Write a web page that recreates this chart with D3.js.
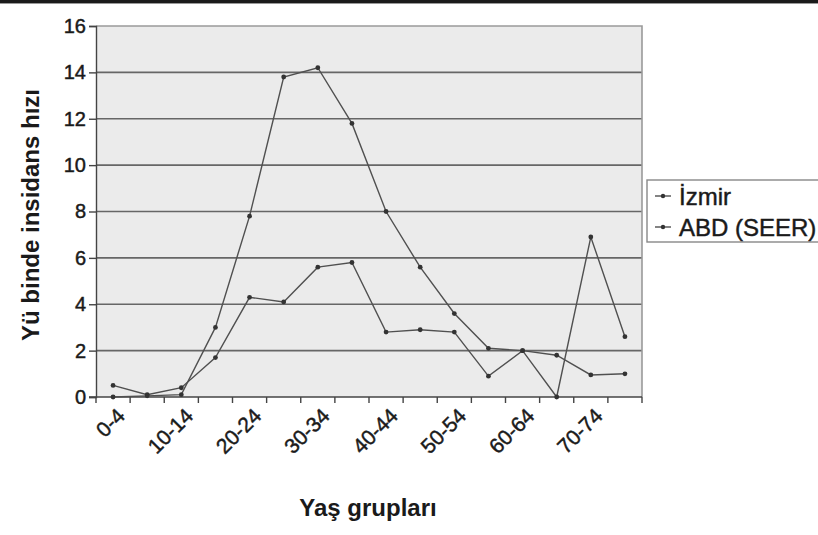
<!DOCTYPE html>
<html><head><meta charset="utf-8">
<script src="https://cdn.jsdelivr.net/npm/d3@7"></script>
<style>
body{margin:0;background:#fff;}
svg{display:block;font-family:"Liberation Sans",Arial,sans-serif;}
.reg{stroke:#1a1a1a;stroke-width:0.45px;}
</style></head>
<body><svg id="c" width="818" height="535"></svg>
<script>
const categories = ["0-4","5-9","10-14","15-19","20-24","25-29","30-34","35-39","40-44","45-49","50-54","55-59","60-64","65-69","70-74","75-79"];
const izmir = [0.5,0.1,0.4,1.7,4.3,4.1,5.6,5.8,2.8,2.9,2.8,0.9,2.0,0.0,6.9,2.6];
const abd = [0.0,0.05,0.1,3.0,7.8,13.8,14.2,11.8,8.0,5.6,3.6,2.1,2.0,1.8,0.95,1.0];
const yTicks = [0,2,4,6,8,10,12,14,16];
const xTickLabels = ["0-4","10-14","20-24","30-34","40-44","50-54","60-64","70-74"];
const seriesNames = ["İzmir","ABD (SEER)"];

const svg = d3.select("#c");
const L = 96, R = 642, T = 26, B = 397;
const x = d3.scaleBand().domain(categories).range([L, R]);
const y = d3.scaleLinear().domain([0,16]).range([B, T]);
const cx = d => x(d) + x.bandwidth()/2;

// top rule
svg.append("rect").attr("x",0).attr("y",0).attr("width",818).attr("height",3).attr("fill","#1a1a1a");
svg.append("rect").attr("x",0).attr("y",3).attr("width",818).attr("height",1).attr("fill","#999");

// plot background
svg.append("rect").attr("x",L).attr("y",T).attr("width",R-L).attr("height",B-T).attr("fill","#ebebeb");

// gridlines
svg.append("g").selectAll("line").data(yTicks.filter(v=>v>0 && v<16)).join("line")
  .attr("x1",L).attr("x2",R).attr("y1",d=>y(d)).attr("y2",d=>y(d))
  .attr("stroke","#666").attr("stroke-width",1.7);
// top & right border
svg.append("path").attr("d",`M${L},${y(16)}H${R}V${B}`).attr("fill","none").attr("stroke","#9a9a9a").attr("stroke-width",1.6);

// y axis
const yAxis = d3.axisLeft(y).tickValues(yTicks).tickSize(7).tickPadding(3).tickFormat(d3.format("d"));
const gy = svg.append("g").attr("transform",`translate(${L},0)`).call(yAxis);
gy.select(".domain").attr("stroke","#444").attr("stroke-width",1.4);
gy.selectAll(".tick line").attr("stroke","#444").attr("stroke-width",1.4);
gy.selectAll(".tick text").attr("class","reg").attr("font-size",20).attr("fill","#1a1a1a").attr("font-family","Liberation Sans, Arial, sans-serif");

// x axis line and ticks at band boundaries
const bounds = categories.map(c=>x(c)).concat([R]);
svg.append("line").attr("x1",L-7).attr("x2",R).attr("y1",B).attr("y2",B).attr("stroke","#444").attr("stroke-width",1.4);
svg.append("g").selectAll("line").data(bounds).join("line")
  .attr("x1",d=>d).attr("x2",d=>d).attr("y1",B).attr("y2",B+6).attr("stroke","#444").attr("stroke-width",1.4);

// x tick labels
svg.append("g").selectAll("text").data(xTickLabels).join("text")
  .attr("class","reg")
  .attr("transform",d=>`translate(${cx(d)+2},${B+9}) rotate(-45)`)
  .attr("text-anchor","end").attr("dy","0.75em")
  .attr("font-size",21).attr("fill","#1a1a1a").text(d=>d);

// lines
const line = d3.line().x((d,i)=>cx(categories[i])).y(d=>y(d));
[izmir, abd].forEach(s=>{
  svg.append("path").datum(s).attr("d",line).attr("fill","none").attr("stroke","#505050").attr("stroke-width",1.4);
  svg.append("g").selectAll("circle").data(s).join("circle")
    .attr("cx",(d,i)=>cx(categories[i])).attr("cy",d=>y(d)).attr("r",2.4).attr("fill","#333");
});

// axis titles
svg.append("text").attr("transform","translate(39,215) rotate(-90)").attr("text-anchor","middle")
  .attr("font-size",24).attr("font-weight","bold").attr("fill","#1a1a1a").text("Yü binde insidans hızı");
svg.append("text").attr("x",368).attr("y",516).attr("text-anchor","middle")
  .attr("font-size",24).attr("font-weight","bold").attr("fill","#1a1a1a").text("Yaş grupları");

// legend
const lg = svg.append("g");
lg.append("rect").attr("x",647).attr("y",180).attr("width",200).attr("height",62).attr("fill","#fff").attr("stroke","#888").attr("stroke-width",1.4);
seriesNames.forEach((n,i)=>{
  const yy = 196 + i*31;
  lg.append("line").attr("x1",655).attr("x2",671).attr("y1",yy).attr("y2",yy).attr("stroke","#505050").attr("stroke-width",1.4);
  lg.append("circle").attr("cx",663).attr("cy",yy).attr("r",2.2).attr("fill","#333");
  lg.append("text").attr("class","reg").attr("x",679).attr("y",yy).attr("dy","0.36em").attr("font-size",24).attr("fill","#1a1a1a").text(n);
});
</script></body></html>
